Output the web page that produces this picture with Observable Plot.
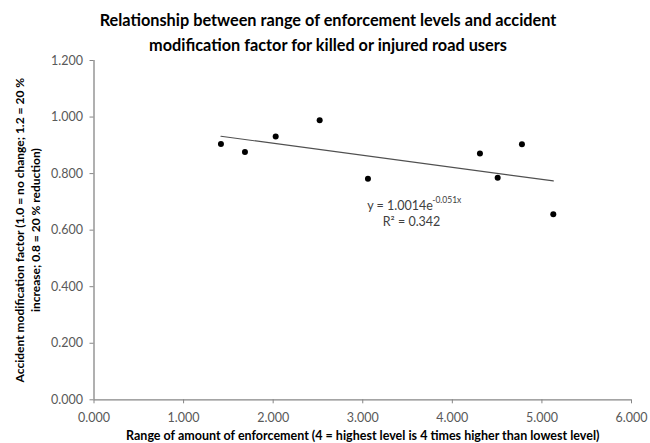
<!DOCTYPE html>
<html>
<head>
<meta charset="utf-8">
<script src="https://cdn.jsdelivr.net/npm/d3@7"></script>
<script src="https://cdn.jsdelivr.net/npm/@observablehq/plot@0.6"></script>
<style>
  body { margin: 0; background: #fff; font-family: Lato, "Open Sans", sans-serif; }
  #title { width: 650px; height: 52px; box-sizing: border-box; padding: 7px 0 0 6px; text-align: center;
           font-weight: bold; font-size: 16.3px; line-height: 25px; color: #000; }
</style>
</head>
<body>
<div id="title">Relationship between range of enforcement levels and accident<br>modification factor for killed or injured road users</div>
<div id="chart"></div>
<script>
// Data
const enforcementRange = [1.417, 1.685, 2.028, 2.519, 3.058, 4.308, 4.506, 4.777, 5.127];
const modificationFactor = [0.905, 0.876, 0.931, 0.989, 0.782, 0.871, 0.785, 0.904, 0.656];
// Exponential trendline end points (y = 1.0014e^-0.051x)
const trendX = [1.417, 5.127];
const trendY = [0.932, 0.774];
const xTicks = [0, 1, 2, 3, 4, 5, 6];
const yTicks = [0, 0.2, 0.4, 0.6, 0.8, 1.0, 1.2];
const equationText = "y = 1.0014e";
const equationExp = "-0.051x";
const r2Text = "R² = 0.342";
const labelAnchor = [{x: 3.05, y: 0.684}];
const xTitle = "Range of amount of enforcement (4 = highest level is 4 times higher than lowest level)";
const yTitle = "Accident modification factor (1.0 = no change; 1.2 = 20 %\nincrease; 0.8 = 20 % reduction)";

const points = enforcementRange.map((x, i) => ({x, y: modificationFactor[i]}));
const trend = trendX.map((x, i) => ({x, y: trendY[i]}));

const axisColor = "#868686";
const labelColor = "#595959";

const chart = Plot.plot({
  width: 650,
  height: 391,
  marginLeft: 93.5,
  marginRight: 19,
  marginTop: 8,
  marginBottom: 43.7,
  style: {fontFamily: "Lato, 'Open Sans', sans-serif", background: "#fff", overflow: "visible"},
  x: {domain: [0, 6]},
  y: {domain: [0, 1.2]},
  marks: [
    Plot.ruleY([0], {stroke: axisColor, strokeWidth: 1.3}),
    Plot.ruleX([0], {stroke: axisColor, strokeWidth: 1.3}),
    Plot.axisX({ticks: xTicks, tickFormat: d3.format(".3f"), tickSize: 4, tickPadding: 9, stroke: axisColor,
                fill: labelColor, fontSize: 12.5, label: null}),
    Plot.axisY({ticks: yTicks, tickFormat: d3.format(".3f"), tickSize: 4, tickPadding: 7, stroke: axisColor,
                fill: labelColor, fontSize: 12.5, label: null}),
    Plot.line(trend, {x: "x", y: "y", stroke: "#505050", strokeWidth: 1.2}),
    Plot.dot(points, {x: "x", y: "y", r: 3, fill: "#000", stroke: "none"}),
    Plot.text(labelAnchor, {x: "x", y: "y", text: () => equationText, textAnchor: "start", fill: "#404040", fontSize: 12.5}),
    Plot.text(labelAnchor, {x: "x", y: "y", text: () => equationExp, textAnchor: "start", dx: 65, dy: -6, fill: "#404040", fontSize: 8.5}),
    Plot.text(labelAnchor, {x: "x", y: "y", text: () => r2Text, textAnchor: "start", dx: 15.5, dy: 16, fill: "#404040", fontSize: 12.5}),
    Plot.text([xTitle], {frameAnchor: "bottom", text: d => d, dy: 36, fontWeight: "bold", fontSize: 12.5, fill: "#000", lineAnchor: "middle"}),
    Plot.text([yTitle], {frameAnchor: "left", text: d => d, rotate: -90, dx: -67, textAnchor: "middle", fontWeight: "bold", fontSize: 12, fill: "#000", lineAnchor: "middle", lineHeight: 1.35})
  ]
});
document.getElementById("chart").appendChild(chart);
</script>
</body>
</html>
